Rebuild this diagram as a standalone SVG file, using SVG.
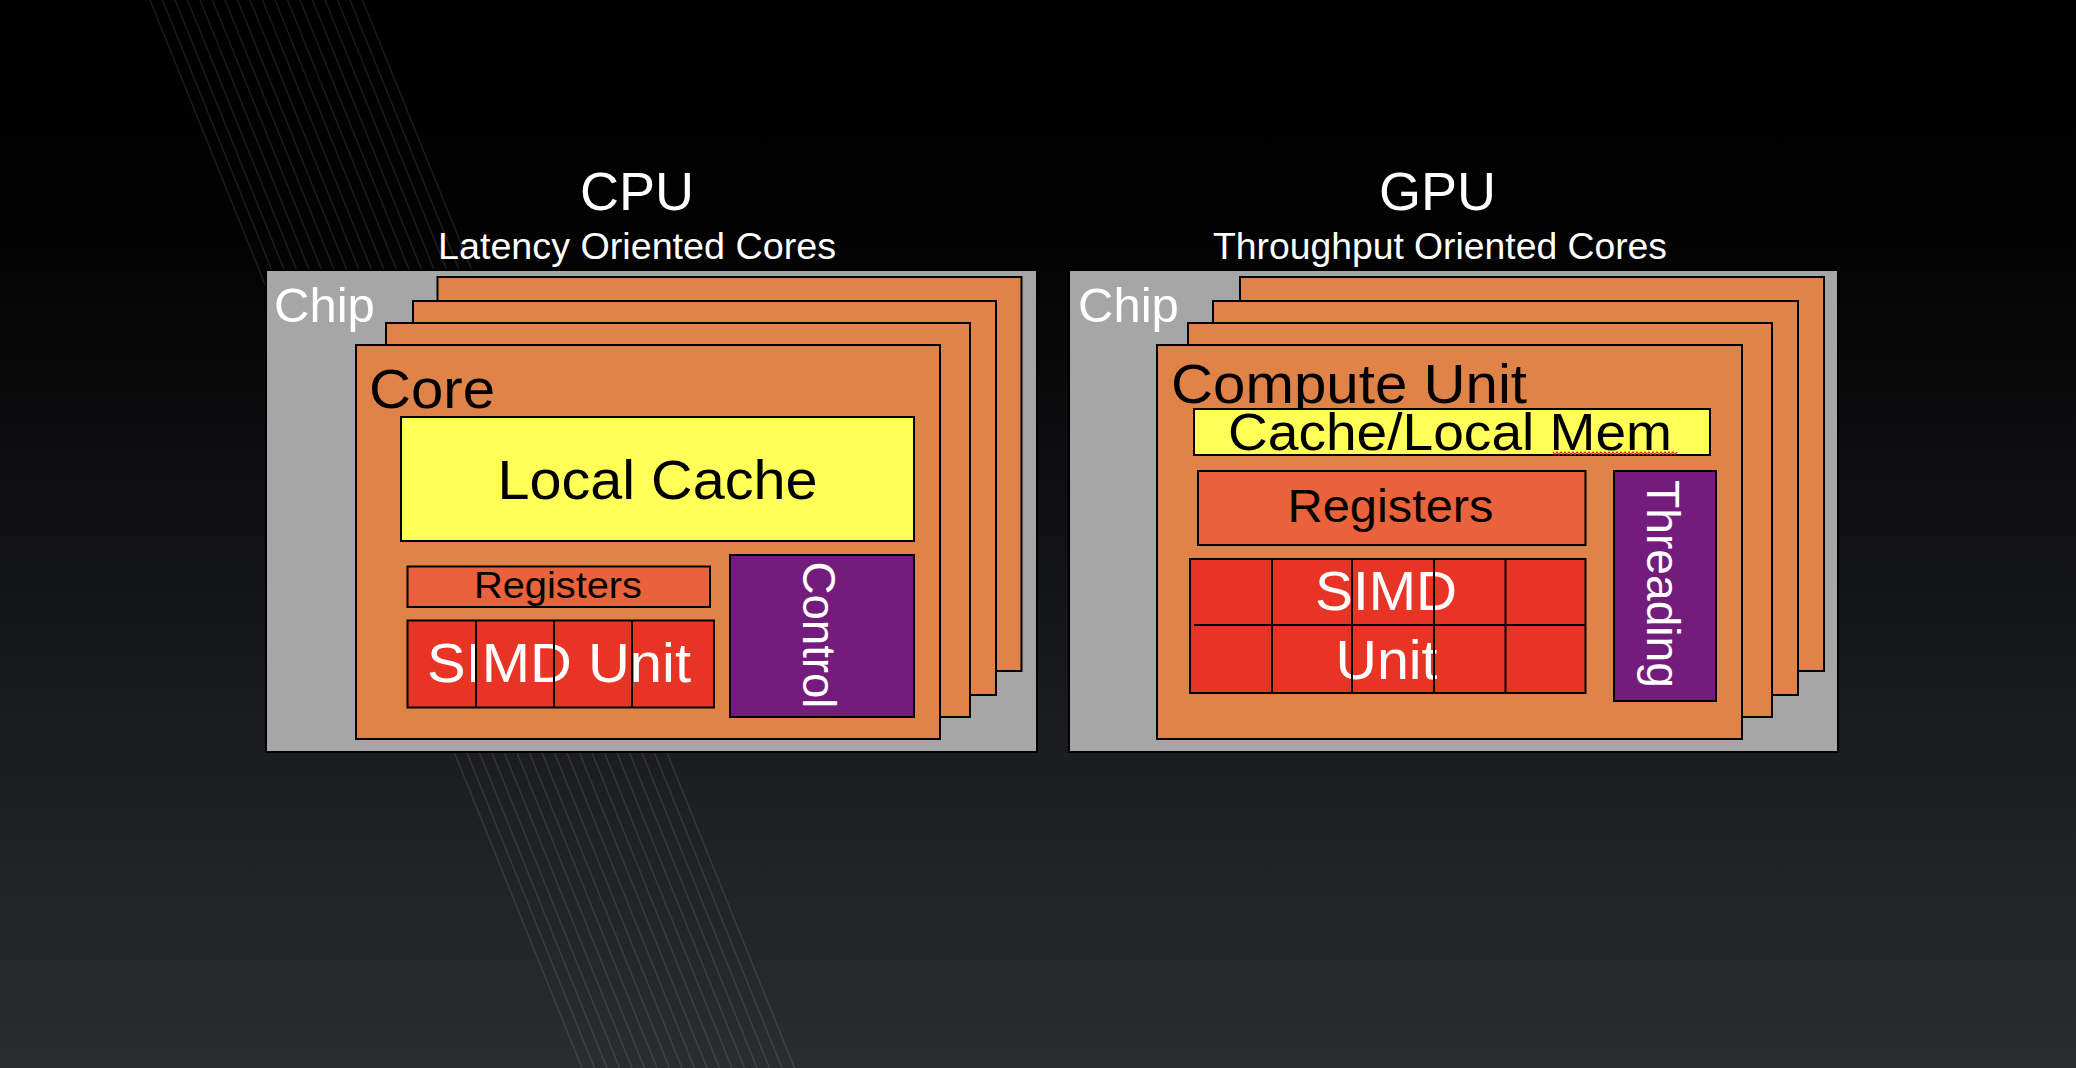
<svg xmlns="http://www.w3.org/2000/svg" width="2076" height="1068" viewBox="0 0 2076 1068">
<defs>
<linearGradient id="bg" x1="0" y1="0" x2="0" y2="1">
<stop offset="0" stop-color="#000000"/>
<stop offset="0.22" stop-color="#020202"/>
<stop offset="0.6" stop-color="#16171a"/>
<stop offset="1" stop-color="#2b2c30"/>
</linearGradient>
<style>
.t{font-family:"Liberation Sans",Arial,sans-serif}
.w{fill:#ffffff}
.k{fill:#000000}
.chip{fill:#a6a6a6;stroke:#000;stroke-width:2}
.core{fill:#e08348;stroke:#000;stroke-width:2}
.cache{fill:#ffff57;stroke:#000;stroke-width:2}
.reg{fill:#e9623b;stroke:#000;stroke-width:2}
.simd{fill:#e83424;stroke:#000;stroke-width:2}
.ctl{fill:#741c7c;stroke:#000;stroke-width:2}
.div{stroke:#000;stroke-width:2;fill:none}
.stripe{stroke:#ffffff;stroke-opacity:0.1;stroke-width:1.6;fill:none}
</style>
</defs>
<rect x="0" y="0" width="2076" height="1068" fill="url(#bg)"/>
<g id="stripes">
<path class="stripe" d="M150,0 L582,1068 M162.5,0 L594.5,1068 M175,0 L607,1068 M187.5,0 L619.5,1068 M200,0 L632,1068 M212.5,0 L644.5,1068 M225,0 L657,1068 M237.5,0 L669.5,1068 M250,0 L682,1068 M262.5,0 L694.5,1068 M275,0 L707,1068 M287.5,0 L719.5,1068 M300,0 L732,1068 M312.5,0 L744.5,1068 M325,0 L757,1068 M337.5,0 L769.5,1068 M350,0 L782,1068 M362.5,0 L794.5,1068"/>
</g>

<g id="cpu-title">
<text class="t w" x="637" y="210" font-size="54" text-anchor="middle">CPU</text>
<text class="t w" x="637" y="259" font-size="36" text-anchor="middle" textLength="398" lengthAdjust="spacingAndGlyphs">Latency Oriented Cores</text>
</g>
<g id="cpu-chip">
<rect class="chip" x="266" y="270" width="771" height="482"/>
<text class="t w" x="274" y="322" font-size="49">Chip</text>
</g>
<g id="cpu-core-4"><rect class="core" x="437.5" y="277" width="584" height="394"/></g>
<g id="cpu-core-3"><rect class="core" x="413" y="301" width="583" height="394"/></g>
<g id="cpu-core-2"><rect class="core" x="386" y="323" width="584" height="394"/></g>
<g id="cpu-core">
<rect class="core" x="356" y="345" width="584" height="394"/>
<text class="t k" x="369" y="408" font-size="56" textLength="126" lengthAdjust="spacingAndGlyphs">Core</text>
</g>
<g id="cpu-cache">
<rect class="cache" x="401" y="417" width="513" height="124"/>
<text class="t k" x="657.5" y="499" font-size="56" text-anchor="middle" textLength="320" lengthAdjust="spacingAndGlyphs">Local Cache</text>
</g>
<g id="cpu-registers">
<rect class="reg" x="407.5" y="566.5" width="302.5" height="40.5"/>
<text class="t k" x="558" y="598" font-size="37" text-anchor="middle" textLength="168" lengthAdjust="spacingAndGlyphs">Registers</text>
</g>
<g id="cpu-simd">
<rect class="simd" x="407.5" y="620.5" width="306.5" height="87"/>
<text class="t w" x="559" y="682" font-size="56" text-anchor="middle" textLength="264" lengthAdjust="spacingAndGlyphs">SIMD Unit</text>
<path class="div" d="M476,620.5 V707.5 M554,620.5 V707.5 M632,620.5 V707.5"/>
</g>
<g id="cpu-control">
<rect class="ctl" x="730" y="555" width="184" height="162"/>
<text class="t w" transform="translate(803,635) rotate(90)" x="0" y="0" font-size="46" text-anchor="middle" textLength="147" lengthAdjust="spacingAndGlyphs">Control</text>
</g>

<g id="gpu-title">
<text class="t w" x="1437.5" y="210" font-size="54" text-anchor="middle">GPU</text>
<text class="t w" x="1440" y="259" font-size="36" text-anchor="middle" textLength="454" lengthAdjust="spacingAndGlyphs">Throughput Oriented Cores</text>
</g>
<g id="gpu-chip">
<rect class="chip" x="1069" y="270" width="769" height="482"/>
<text class="t w" x="1078" y="322" font-size="49">Chip</text>
</g>
<g id="gpu-cu-4"><rect class="core" x="1240" y="277" width="584" height="394"/></g>
<g id="gpu-cu-3"><rect class="core" x="1213" y="301" width="585" height="394"/></g>
<g id="gpu-cu-2"><rect class="core" x="1188" y="323" width="584" height="394"/></g>
<g id="gpu-cu">
<rect class="core" x="1157" y="345" width="585" height="394"/>
<text class="t k" x="1171" y="403" font-size="55" textLength="356" lengthAdjust="spacingAndGlyphs">Compute Unit</text>
</g>
<g id="gpu-cache">
<rect class="cache" x="1194" y="409" width="516" height="46"/>
<text class="t k" x="1450" y="450" font-size="52" text-anchor="middle" textLength="444" lengthAdjust="spacingAndGlyphs">Cache/Local Mem</text>
<polyline fill="none" stroke="#d8302a" stroke-width="1.2" points="1553,452 1555,454.5 1557,452 1559,454.5 1561,452 1563,454.5 1565,452 1567,454.5 1569,452 1571,454.5 1573,452 1575,454.5 1577,452 1579,454.5 1581,452 1583,454.5 1585,452 1587,454.5 1589,452 1591,454.5 1593,452 1595,454.5 1597,452 1599,454.5 1601,452 1603,454.5 1605,452 1607,454.5 1609,452 1611,454.5 1613,452 1615,454.5 1617,452 1619,454.5 1621,452 1623,454.5 1625,452 1627,454.5 1629,452 1631,454.5 1633,452 1635,454.5 1637,452 1639,454.5 1641,452 1643,454.5 1645,452 1647,454.5 1649,452 1651,454.5 1653,452 1655,454.5 1657,452 1659,454.5 1661,452 1663,454.5 1665,452 1667,454.5 1669,452 1671,454.5 1673,452 1675,454.5 1677,452"/>
</g>
<g id="gpu-registers">
<rect class="reg" x="1198" y="471" width="387.5" height="74"/>
<text class="t k" x="1390.5" y="522" font-size="46" text-anchor="middle" textLength="206" lengthAdjust="spacingAndGlyphs">Registers</text>
</g>
<g id="gpu-simd">
<rect class="simd" x="1190" y="559" width="395.5" height="134"/>
<text class="t w" x="1386" y="609.5" font-size="55" text-anchor="middle" textLength="142" lengthAdjust="spacingAndGlyphs">SIMD</text>
<text class="t w" x="1386.5" y="678.5" font-size="55" text-anchor="middle" textLength="102" lengthAdjust="spacingAndGlyphs">Unit</text>
<path class="div" d="M1194,625 H1585.5 M1272,559 V693 M1352,559 V693 M1434,559 V693 M1505.5,559 V693"/>
</g>
<g id="gpu-threading">
<rect class="ctl" x="1614" y="471" width="102" height="230"/>
<text class="t w" transform="translate(1647,584) rotate(90)" x="0" y="0" font-size="47" text-anchor="middle" textLength="208" lengthAdjust="spacingAndGlyphs">Threading</text>
</g>
<g id="connectors"/>
</svg>
